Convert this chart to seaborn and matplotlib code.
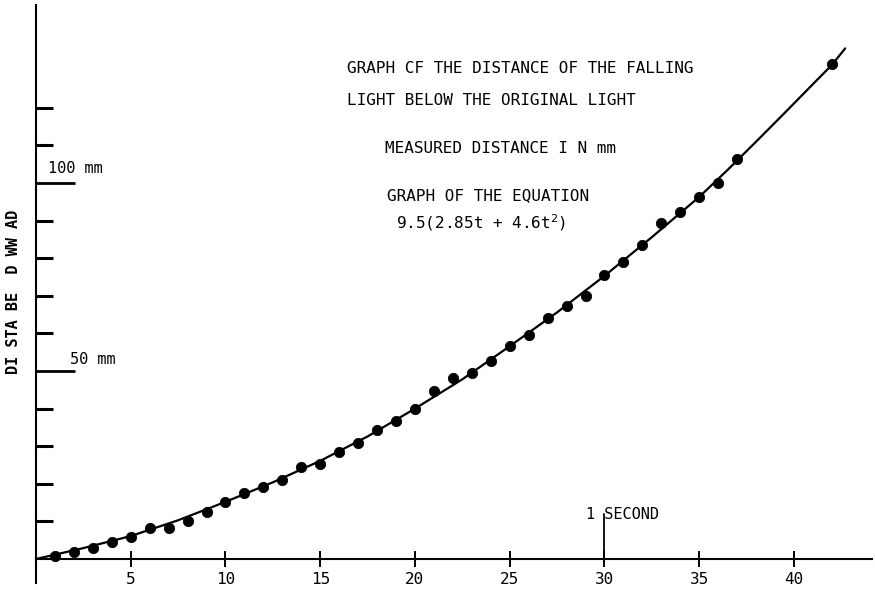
import matplotlib
matplotlib.use("Agg")
import matplotlib.pyplot as plt
import seaborn as sns
import pandas as pd

# ---- data ----
frame = [1, 2, 3, 4, 5, 6, 7, 8, 9, 10, 11, 12, 13, 14, 15, 16, 17, 18, 19, 20,
         21, 22, 23, 24, 25, 26, 27, 28, 29, 30, 31, 32, 33, 34, 35, 36, 37, 42]
distance_mm = [0.8, 1.9, 2.9, 4.5, 5.9, 8.2, 8.2, 10.1, 12.5, 15.2, 17.6, 19.1,
               21.0, 24.5, 25.3, 28.5, 30.9, 34.3, 36.7, 39.9, 44.7, 48.1, 49.5,
               52.7, 56.6, 59.6, 64.1, 67.3, 69.9, 75.5, 79.0, 83.5, 89.4, 92.3,
               96.3, 100.0, 106.4, 131.6]

curve_frame = [0, 2.5, 5, 7.5, 10, 12.5, 15, 17.5, 20, 22.5, 25, 27.5, 30,
               32.5, 35, 36.5, 38, 39.5, 41, 42, 42.7]
curve_mm = [0, 2.9, 6.1, 10.3, 15.2, 20.4, 26.1, 32.6, 40.0, 47.8, 56.6, 65.6,
            75.3, 85.6, 96.3, 103.5, 111.0, 118.6, 126.3, 131.4, 135.8]

x_ticks = [5, 10, 15, 20, 25, 30, 35, 40]
x_tick_labels = ["5", "10", "15", "20", "25", "30", "35", "40"]
y_major = [50, 100]
y_minor = [10, 20, 30, 40, 60, 70, 80, 90, 110, 120]
one_second = 30

title_lines = ["GRAPH CF THE DISTANCE OF THE FALLING",
               "LIGHT BELOW THE ORIGINAL LIGHT"]
measured_text = "MEASURED DISTANCE I N mm"
equation_title = "GRAPH OF THE EQUATION"
equation_text = r"9.5(2.85t + 4.6t$^{2}$)"
y_label = "DI STA BE  D WW AD"

df_pts = pd.DataFrame({"frame": frame, "distance": distance_mm})
df_curve = pd.DataFrame({"frame": curve_frame, "distance": curve_mm})

sns.set_style("white")
plt.rcParams["font.family"] = ["DejaVu Sans Mono", "DejaVu Sans"]
plt.rcParams["mathtext.fontset"] = "dejavusans"
plt.rcParams["text.color"] = "black"

fig = plt.figure(figsize=(8.75, 5.9), dpi=100)
ax = fig.add_axes([0, 0, 1, 1])

px_x = 18.95   # pixels per frame
px_y = 3.76    # pixels per mm
x0, y0 = 36, 559
ax.set_xlim(-x0 / px_x, (875 - x0) / px_x)
ax.set_ylim(-(590 - y0) / px_y, y0 / px_y)

sns.lineplot(data=df_curve, x="frame", y="distance", color="black",
             linewidth=1.6, ax=ax)
sns.scatterplot(data=df_pts, x="frame", y="distance", color="black",
                edgecolor="black", s=55, ax=ax, zorder=3)

# axes
for s in ["top", "right"]:
    ax.spines[s].set_visible(False)
ax.spines["left"].set_position(("data", 0))
ax.spines["bottom"].set_position(("data", 0))
ax.spines["left"].set_bounds(-6.4, 147.3)
ax.spines["bottom"].set_bounds(0, 44.1)
for s in ["left", "bottom"]:
    ax.spines[s].set_linewidth(1.5)
    ax.spines[s].set_color("black")

ax.set_xticks(x_ticks)
ax.set_xticklabels(x_tick_labels)
ax.tick_params(axis="x", direction="inout", length=11, width=1.4, pad=4,
               labelsize=11.5, colors="black", bottom=True)
ax.set_yticks(y_major)
ax.set_yticks(y_minor, minor=True)
ax.set_yticklabels([])
ax.tick_params(axis="y", which="major", direction="in", length=28, width=2.0,
               left=True, colors="black")
ax.tick_params(axis="y", which="minor", direction="in", length=12.5, width=2.2,
               left=True, colors="black")
ax.set_xlabel("")
ax.set_ylabel("")

# 1 second marker
ax.plot([one_second, one_second], [0, 12.0], color="black", linewidth=1.3)
ax.text(29.0, 10.6, "1 SECOND", fontsize=11, va="baseline", ha="left")

# annotations
fs = 11.5
ax.text(16.41, 129.3, title_lines[0], fontsize=fs, va="baseline")
ax.text(16.41, 120.7, title_lines[1], fontsize=fs, va="baseline")
ax.text(18.42, 108.0, measured_text, fontsize=fs, va="baseline")
ax.text(18.52, 95.5, equation_title, fontsize=fs, va="baseline")
ax.text(19.0, 88.0, equation_text, fontsize=fs, va="baseline")

ax.text(0.63, 102.7, "100 mm", fontsize=11, va="baseline")
ax.text(1.8, 51.9, "50 mm", fontsize=11, va="baseline")

ax.text(-1.21, 71, y_label, fontsize=11, rotation=90, va="center",
        ha="center", fontweight="bold")

fig.savefig("out.png", dpi=100)
